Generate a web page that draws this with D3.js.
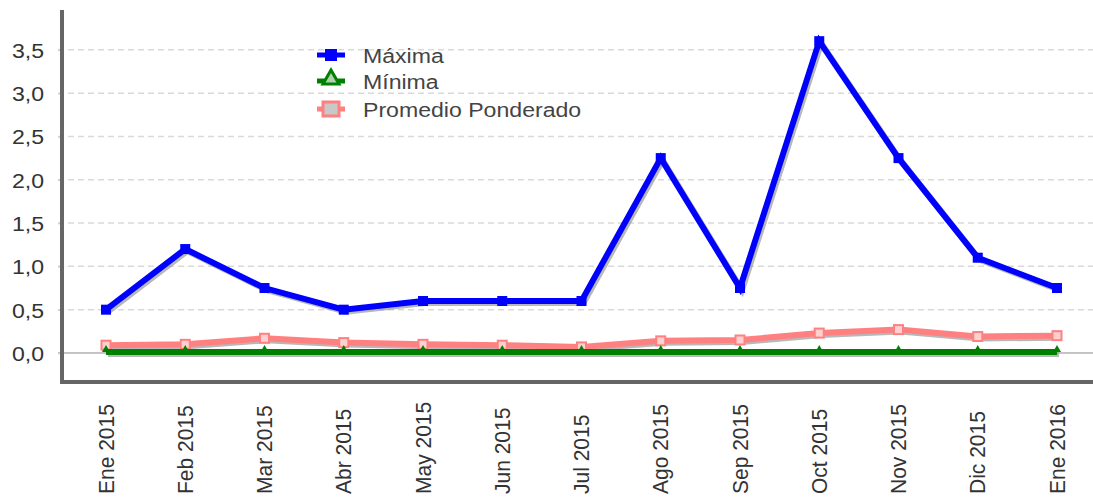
<!DOCTYPE html>
<html>
<head>
<meta charset="utf-8">
<script src="https://cdn.jsdelivr.net/npm/d3@7"></script>
<style>
  body { margin: 0; background: #fff; }
  svg { display: block; font-family: "Liberation Sans", Arial, sans-serif; }
</style>
</head>
<body>
<svg id="chart" width="1093" height="498"></svg>
<script>
// Monthly categories
const months = ["Ene 2015", "Feb 2015", "Mar 2015", "Abr 2015", "May 2015", "Jun 2015",
  "Jul 2015", "Ago 2015", "Sep 2015", "Oct 2015", "Nov 2015", "Dic 2015", "Ene 2016"];

// Series values
const maxima   = [0.5, 1.2, 0.75, 0.5, 0.6, 0.6, 0.6, 2.25, 0.75, 3.6, 2.25, 1.1, 0.75];
const minima   = [0.01, 0.01, 0.01, 0.01, 0.01, 0.01, 0.01, 0.01, 0.01, 0.01, 0.01, 0.01, 0.01];
const promedio = [0.09, 0.1, 0.17, 0.12, 0.1, 0.09, 0.07, 0.14, 0.15, 0.23, 0.27, 0.19, 0.2];

// Y tick values and labels
const yTicks = [0, 0.5, 1.0, 1.5, 2.0, 2.5, 3.0, 3.5];
const yTickLabels = ["0,0", "0,5", "1,0", "1,5", "2,0", "2,5", "3,0", "3,5"];

const seriesNames = ["Máxima", "Mínima", "Promedio Ponderado"];

const svg = d3.select("#chart");
const W = 1093;
const FONT = "Liberation Sans, Arial, sans-serif";

const x = d3.scalePoint().domain(months).range([106, 1057]);
const y = d3.scaleLinear().domain([-0.335, 3.96]).range([382, 10]);

// Grid lines
svg.append("g").selectAll("line")
  .data(yTicks.filter(d => d !== 0))
  .join("line")
  .attr("x1", 58).attr("x2", W)
  .attr("y1", d => y(d)).attr("y2", d => y(d))
  .attr("stroke", "#d9d9d9")
  .attr("stroke-width", 1.5)
  .attr("stroke-dasharray", "6,4");

// Zero baseline
svg.append("line")
  .attr("x1", 58).attr("x2", W)
  .attr("y1", y(0)).attr("y2", y(0))
  .attr("stroke", "#8a8a8a").attr("stroke-width", 1);

// Y axis ticks and labels
const yAxis = d3.axisLeft(y)
  .tickValues(yTicks)
  .tickFormat((d, i) => yTickLabels[i])
  .tickSize(4);
const yg = svg.append("g").attr("transform", "translate(62,0)").call(yAxis);
yg.select(".domain").remove();
yg.selectAll(".tick line").attr("stroke", "#cfcfcf").attr("stroke-width", 1.5);
yg.selectAll(".tick text")
  .attr("font-size", 21).attr("fill", "#333").attr("font-family", FONT)
  .attr("text-anchor", "end")
  .attr("x", null).attr("dy", null)
  .attr("transform", "translate(-18,7.5) scale(1.1,1)");

// X axis labels, rotated and bottom-aligned
const xAxis = d3.axisBottom(x).tickSize(0);
const xg = svg.append("g").attr("transform", "translate(0,382)").call(xAxis);
xg.select(".domain").remove();
xg.selectAll(".tick text")
  .attr("font-size", 21).attr("fill", "#333").attr("font-family", FONT)
  .attr("text-anchor", "start")
  .attr("dy", null).attr("x", 0).attr("y", 0)
  .attr("transform", "translate(7,112) rotate(-90) scale(1,1.08)");

// Series lines with drop shadows
const line = d3.line().x((d, i) => x(months[i])).y(d => y(d));
const series = [
  { vals: maxima, color: "#0000ff", marker: "square" },
  { vals: minima, color: "#008000", marker: "triangle" },
  { vals: promedio, color: "#ff8080", marker: "hsquare" }
];

const plot = svg.append("g");
[2, 1, 0].forEach(k => {
  const s = series[k];
  plot.append("path")
    .attr("d", line(s.vals))
    .attr("fill", "none")
    .attr("stroke", "#9a9a9a")
    .attr("stroke-opacity", 0.7)
    .attr("stroke-width", 6)
    .attr("transform", "translate(2,2)");
  plot.append("path")
    .attr("d", line(s.vals))
    .attr("fill", "none")
    .attr("stroke", s.color)
    .attr("stroke-width", 6);
  const g = plot.append("g");
  if (s.marker === "square") {
    g.selectAll("rect").data(s.vals).join("rect")
      .attr("x", (d, i) => x(months[i]) - 5)
      .attr("y", d => y(d) - 5)
      .attr("width", 10).attr("height", 10)
      .attr("fill", s.color);
  } else if (s.marker === "triangle") {
    g.selectAll("path").data(s.vals).join("path")
      .attr("d", (d, i) => {
        const cx = x(months[i]), cy = y(d);
        return `M${cx},${cy - 7}L${cx + 4},${cy}L${cx - 4},${cy}Z`;
      })
      .attr("fill", s.color);
  } else {
    g.selectAll("rect").data(s.vals).join("rect")
      .attr("x", (d, i) => x(months[i]) - 4.5)
      .attr("y", d => y(d) - 4.5)
      .attr("width", 9).attr("height", 9)
      .attr("fill", "#ffd0d0")
      .attr("stroke", s.color).attr("stroke-width", 2);
  }
});

// Axis frame lines
svg.append("line")
  .attr("x1", 62).attr("x2", 62).attr("y1", 10).attr("y2", 384)
  .attr("stroke", "#666").attr("stroke-width", 4);
svg.append("line")
  .attr("x1", 60).attr("x2", W).attr("y1", 382).attr("y2", 382)
  .attr("stroke", "#666").attr("stroke-width", 4);

// Legend
const legend = svg.append("g");
const rowsY = [55, 81, 109];
seriesNames.forEach((name, k) => {
  const s = series[k];
  const cy = rowsY[k];
  const row = legend.append("g");
  row.append("line")
    .attr("x1", 317).attr("x2", 345).attr("y1", cy).attr("y2", cy)
    .attr("stroke", s.color).attr("stroke-width", 5);
  if (s.marker === "square") {
    row.append("rect").attr("x", 325).attr("y", cy - 6).attr("width", 12).attr("height", 12)
      .attr("fill", s.color);
  } else if (s.marker === "triangle") {
    row.append("path")
      .attr("d", `M331,${cy - 11}L339,${cy + 3}L323,${cy + 3}Z`)
      .attr("fill", "#b0d0b0").attr("stroke", s.color).attr("stroke-width", 3);
  } else {
    row.append("rect").attr("x", 323).attr("y", cy - 7).attr("width", 16).attr("height", 14)
      .attr("fill", "#c8c8c8").attr("stroke", s.color).attr("stroke-width", 3);
  }
  row.append("text")
    .attr("transform", `translate(363,${cy + 8}) scale(1.1,1)`)
    .attr("font-size", 21).attr("fill", "#444").attr("font-family", FONT)
    .text(name);
});
</script>
</body>
</html>
